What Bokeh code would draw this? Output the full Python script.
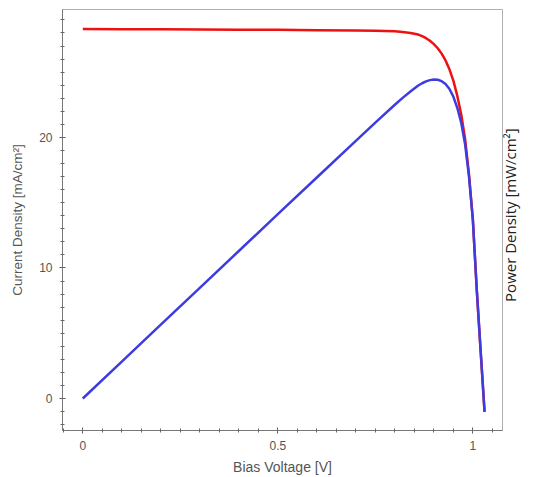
import math
from bokeh.plotting import figure
from bokeh.models import LinearAxis, Range1d, FixedTicker
from bokeh.embed import file_html
from bokeh.resources import INLINE

# Bias voltage [V]
voltage = [0.0, 0.1, 0.2, 0.3, 0.4, 0.5, 0.6, 0.7, 0.75, 0.8, 0.82, 0.84, 0.86, 0.87, 0.88,
           0.89, 0.90, 0.91, 0.92, 0.93, 0.94, 0.95, 0.96, 0.97, 0.98, 0.99, 1.00, 1.01,
           1.02, 1.03]
# Current density [mA/cm^2]
current_density = [28.3, 28.29, 28.28, 28.27, 28.25, 28.24, 28.22, 28.2, 28.18, 28.13, 28.08,
                   28.0, 27.88, 27.76, 27.6, 27.4, 27.15, 26.83, 26.42, 25.9, 25.22, 24.35,
                   23.2, 21.8, 19.9, 17.2, 13.7, 8.3, 3.6, -1.0]
# Power density [mW/cm^2]
power_density = [0.0, 2.83, 5.66, 8.48, 11.3, 14.12, 16.93, 19.74, 21.14, 22.5, 23.03,
                 23.52, 23.98, 24.15, 24.29, 24.39, 24.44, 24.42, 24.31, 24.09, 23.71, 23.13,
                 22.27, 21.15, 19.5, 17.03, 13.7, 8.38, 3.67, -1.03]

x_ticks = [0, 0.5, 1]
y_ticks = [0, 10, 20]
right_title = "Power Density [mW/cm²]"

FONT = "Liberation Sans"
GREY = "#555555"

p = figure(width=533, height=477, output_backend="svg", toolbar_location=None,
           x_range=Range1d(-0.052, 1.076), y_range=Range1d(-2.45, 29.8),
           min_border_left=62, min_border_top=9, min_border_right=31, min_border_bottom=46)
p.xgrid.visible = False
p.ygrid.visible = False
p.outline_line_color = "#b0b0b0"
p.background_fill_color = "white"
p.border_fill_color = "white"

p.line(voltage, current_density, line_color="#ee1111", line_width=2.5)
p.line(voltage, power_density, line_color="#3c3ce0", line_width=2.5)

for ax in (p.xaxis[0], p.yaxis[0]):
    ax.axis_label_text_font = FONT
    ax.axis_label_text_font_style = "normal"
    ax.axis_label_text_color = GREY
    ax.major_label_text_font = FONT
    ax.major_label_text_font_size = "12px"
    ax.major_label_text_color = GREY
    ax.axis_line_color = "#777777"
    ax.major_tick_line_color = "#555555"
    ax.minor_tick_line_color = "#666666"
    ax.major_tick_in = 3
    ax.major_tick_out = 3
    ax.minor_tick_in = 2
    ax.minor_tick_out = 2

p.xaxis[0].axis_label_text_font_size = "14px"
p.yaxis[0].axis_label_text_font_size = "13.5px"
p.xaxis[0].ticker = FixedTicker(ticks=x_ticks, minor_ticks=[i * 0.05 for i in range(-1, 22)])
p.yaxis[0].ticker = FixedTicker(ticks=y_ticks, minor_ticks=list(range(-2, 30)))
p.xaxis[0].axis_label = "Bias Voltage [V]"
p.yaxis[0].axis_label = "Current Density [mA/cm²]"
p.xaxis[0].major_label_overrides = {0: "0", 0.5: "0.5", 1: "1"}
p.xaxis[0].major_label_standoff = 7
p.yaxis[0].major_label_standoff = 7
p.xaxis[0].axis_label_standoff = 6
p.yaxis[0].axis_label_standoff = 11

# right-hand title, drawn as the single (rotated) label of an otherwise empty axis
title_anchor = 7.4
right = LinearAxis(ticker=FixedTicker(ticks=[title_anchor], minor_ticks=[]),
                   major_label_overrides={title_anchor: right_title},
                   axis_line_color=None, major_tick_line_color=None, minor_tick_line_color=None,
                   major_tick_in=0, major_tick_out=0,
                   major_label_orientation=math.pi / 2, major_label_standoff=8,
                   major_label_text_font="Open Sans", major_label_text_font_size="15px",
                   major_label_text_color="#222222")
p.add_layout(right, "right")

open("out.html", "w").write(file_html(p, INLINE))
